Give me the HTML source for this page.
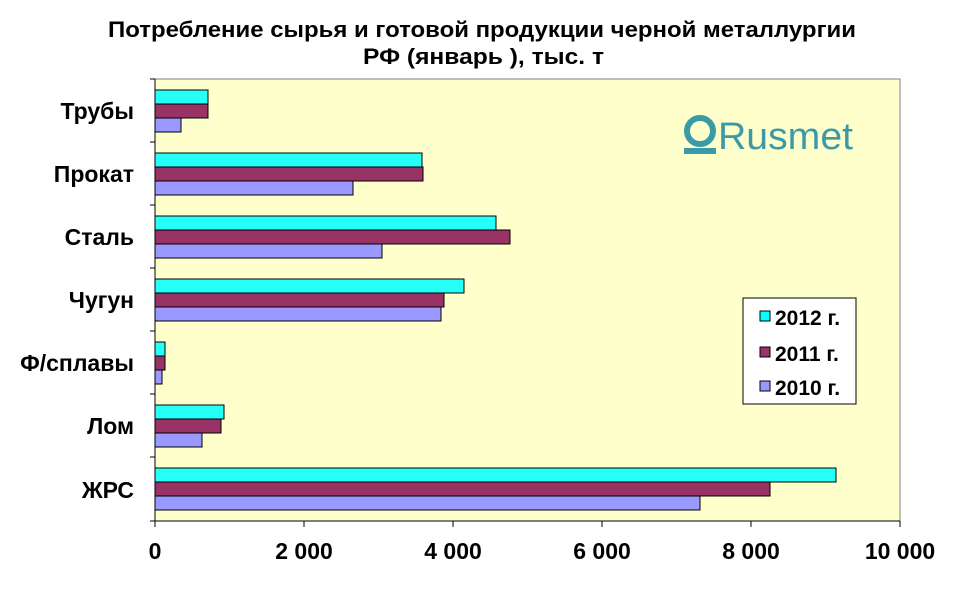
<!DOCTYPE html>
<html><head><meta charset="utf-8"><style>body{margin:0;background:#fff}svg{display:block}</style></head><body>
<svg width="970" height="604" xmlns="http://www.w3.org/2000/svg" font-family="Liberation Sans, sans-serif" font-weight="bold">
<rect width="970" height="604" fill="#fff"/>
<text x="108" y="37" font-size="22" textLength="748" lengthAdjust="spacingAndGlyphs">Потребление сырья и готовой продукции черной металлургии</text>
<text x="363" y="64" font-size="22" textLength="241" lengthAdjust="spacingAndGlyphs">РФ (январь ), тыс. т</text>
<rect x="155" y="79" width="745" height="442" fill="#ffffcc" stroke="#808080"/>
<g stroke="#000" stroke-width="1">
<line x1="155" y1="79" x2="155" y2="521"/>
<line x1="155" y1="521" x2="900" y2="521"/>
<line x1="150" y1="79" x2="155" y2="79"/><line x1="150" y1="142" x2="155" y2="142"/><line x1="150" y1="205" x2="155" y2="205"/><line x1="150" y1="268" x2="155" y2="268"/><line x1="150" y1="331" x2="155" y2="331"/><line x1="150" y1="394" x2="155" y2="394"/><line x1="150" y1="457" x2="155" y2="457"/><line x1="150" y1="521" x2="155" y2="521"/>
<line x1="155" y1="521" x2="155" y2="527"/><line x1="304" y1="521" x2="304" y2="527"/><line x1="453" y1="521" x2="453" y2="527"/><line x1="602" y1="521" x2="602" y2="527"/><line x1="751" y1="521" x2="751" y2="527"/><line x1="900" y1="521" x2="900" y2="527"/>
</g>
<g stroke="#000" stroke-width="1">
<rect x="155" y="90" width="53" height="14" fill="#00ffff" fill-opacity=".85"/><rect x="155" y="104" width="53" height="14" fill="#993366"/><rect x="155" y="118" width="26" height="14" fill="#9999ff"/>
<rect x="155" y="153" width="267" height="14" fill="#00ffff" fill-opacity=".85"/><rect x="155" y="167" width="268" height="14" fill="#993366"/><rect x="155" y="181" width="198" height="14" fill="#9999ff"/>
<rect x="155" y="216" width="341" height="14" fill="#00ffff" fill-opacity=".85"/><rect x="155" y="230" width="355" height="14" fill="#993366"/><rect x="155" y="244" width="227" height="14" fill="#9999ff"/>
<rect x="155" y="279" width="309" height="14" fill="#00ffff" fill-opacity=".85"/><rect x="155" y="293" width="289" height="14" fill="#993366"/><rect x="155" y="307" width="286" height="14" fill="#9999ff"/>
<rect x="155" y="342" width="10" height="14" fill="#00ffff" fill-opacity=".85"/><rect x="155" y="356" width="10" height="14" fill="#993366"/><rect x="155" y="370" width="7" height="14" fill="#9999ff"/>
<rect x="155" y="405" width="69" height="14" fill="#00ffff" fill-opacity=".85"/><rect x="155" y="419" width="66" height="14" fill="#993366"/><rect x="155" y="433" width="47" height="14" fill="#9999ff"/>
<rect x="155" y="468" width="681" height="14" fill="#00ffff" fill-opacity=".85"/><rect x="155" y="482" width="615" height="14" fill="#993366"/><rect x="155" y="496" width="545" height="14" fill="#9999ff"/>
</g>
<g font-size="23" text-anchor="end">
<text x="134" y="119">Трубы</text><text x="134" y="182">Прокат</text><text x="134" y="245">Сталь</text><text x="134" y="308">Чугун</text><text x="134" y="371">Ф/сплавы</text><text x="134" y="434">Лом</text><text x="134" y="498">ЖРС</text>
</g>
<g font-size="23" text-anchor="middle">
<text x="155" y="559">0</text><text x="304" y="559">2 000</text><text x="453" y="559">4 000</text><text x="602" y="559">6 000</text><text x="751" y="559">8 000</text><text x="900" y="559">10 000</text>
</g>
<rect x="743" y="298" width="113" height="106" fill="#fff" stroke="#000"/>
<g stroke="#000"><rect x="760" y="311" width="10" height="10" fill="#00ffff"/><rect x="760" y="347" width="10" height="10" fill="#993366"/><rect x="760" y="381" width="10" height="10" fill="#9999ff"/></g>
<g font-size="21"><text x="775" y="325">2012 г.</text><text x="775" y="361">2011 г.</text><text x="775" y="395">2010 г.</text></g>
<g fill="#3a9aa8">
<circle cx="700" cy="131" r="13" fill="none" stroke="#3a9aa8" stroke-width="6"/>
<rect x="684" y="148" width="32" height="6"/>
<text x="718" y="149" font-size="38" font-weight="normal" textLength="135" lengthAdjust="spacingAndGlyphs">Rusmet</text>
</g>
</svg>
</body></html>
